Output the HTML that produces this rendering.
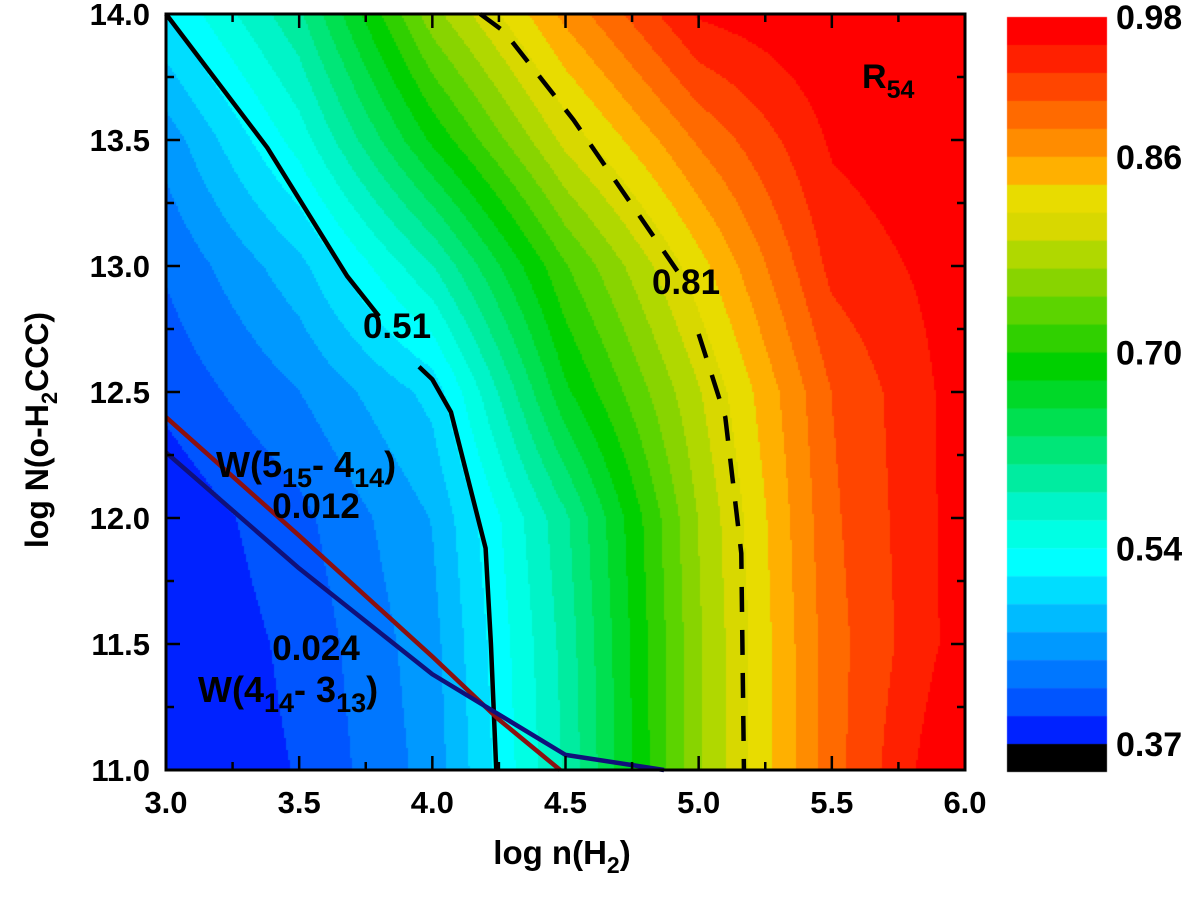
<!DOCTYPE html>
<html><head><meta charset="utf-8"><style>
body{margin:0;background:#fff;width:1200px;height:904px;overflow:hidden}
svg text{font-family:"Liberation Sans",Arial,sans-serif;font-weight:bold}
</style></head><body>
<div style="position:relative;width:1200px;height:904px">
<canvas id="cv" width="1200" height="904" style="position:absolute;left:0;top:0"></canvas>
<svg id="sv" width="1200" height="904" style="position:absolute;left:0;top:0"></svg>
</div>
<script>
// ---- data ----
const xGrid = [3.0, 3.5, 4.0, 4.5, 5.0, 5.5, 6.0];
const yGrid = [11.0, 11.5, 12.0, 12.5, 13.0, 13.5, 14.0];
const rowY110 = [0.37, 0.395, 0.45, 0.585, 0.765, 0.90, 0.99];
const rowY115 = [0.37, 0.40, 0.455, 0.59, 0.765, 0.90, 0.97];
const rowY120 = [0.375, 0.41, 0.465, 0.60, 0.77, 0.905, 0.97];
const rowY125 = [0.40, 0.44, 0.495, 0.67, 0.79, 0.91, 0.97];
const rowY130 = [0.42, 0.48, 0.58, 0.72, 0.83, 0.94, 0.97];
const rowY135 = [0.45, 0.545, 0.68, 0.80, 0.89, 0.96, 0.98];
const rowY140 = [0.51, 0.60, 0.76, 0.87, 0.96, 0.98, 0.99];
const levelMin = 0.37, levelMax = 0.98, nBands = 26;
const bandColors = ["#0022ff","#0055ff","#0077ff","#0099ff","#00bbff","#00ddff","#00ffff","#00ffe4","#00f4c8","#00eca0","#00e678","#00e050","#00d828","#00d000","#30d000","#5cd400","#88d400","#b0d800","#d8d800","#e8dc00","#ffb000","#ff8c00","#ff6a00","#ff4500","#ff2000","#ff0000"];
const cbLabels = ["0.98","0.86","0.70","0.54","0.37"];
const xTicks = ["3.0","3.5","4.0","4.5","5.0","5.5","6.0"];
const yTicks = ["11.0","11.5","12.0","12.5","13.0","13.5","14.0"];
const c051a = [[3.0,14.0],[3.38,13.47],[3.68,12.96],[3.80,12.80]];
const c051b = [[3.95,12.60],[4.0,12.55],[4.07,12.42],[4.20,11.88],[4.22,11.5],[4.24,11.0]];
const c081a = [[4.18,14.0],[4.27,13.93],[4.53,13.58],[4.92,12.98]];
const c081b = [[5.0,12.73],[5.10,12.40],[5.16,11.86],[5.17,11.0]];
const w515 = [[3.0,12.40],[3.5,11.93],[4.0,11.45],[4.25,11.2],[4.48,11.0]];
const w414 = [[3.0,12.26],[3.5,11.80],[4.0,11.38],[4.5,11.06],[4.87,11.0]];

const rows = [rowY110,rowY115,rowY120,rowY125,rowY130,rowY135,rowY140];
const X0=166,X1=965,Y0=770,Y1=14;
const sx=v=>X0+(v-3)/(6-3)*(X1-X0);
const sy=v=>Y0-(v-11)/(14-11)*(Y0-Y1);
const ix=p=>3+(p-X0)/(X1-X0)*3;
const iy=p=>11+(Y0-p)/(Y0-Y1)*3;
function interp(x,y){
  let i=Math.min(xGrid.length-2,Math.max(0,Math.floor((x-xGrid[0])/(xGrid[1]-xGrid[0]))));
  let j=Math.min(yGrid.length-2,Math.max(0,Math.floor((y-yGrid[0])/(yGrid[1]-yGrid[0]))));
  const tx=(x-xGrid[i])/(xGrid[i+1]-xGrid[i]), ty=(y-yGrid[j])/(yGrid[j+1]-yGrid[j]);
  const a=rows[j][i],b=rows[j][i+1],c=rows[j+1][i],d=rows[j+1][i+1];
  return a*(1-tx)*(1-ty)+b*tx*(1-ty)+c*(1-tx)*ty+d*tx*ty;
}
const step=(levelMax-levelMin)/nBands;
function colorOf(v){
  if(v<levelMin) return "#0022ff";
  let k=Math.floor((v-levelMin)/step); if(k>=nBands)k=nBands-1;
  return bandColors[k];
}
const ctx=document.getElementById('cv').getContext('2d');
for(let px=X0;px<X1;px+=2){for(let py=Y1;py<Y0;py+=2){
  ctx.fillStyle=colorOf(interp(ix(px+1),iy(py+1)));ctx.fillRect(px,py,2,2);}}
// colorbar
const CB={x:1007,w:100,top:17,bot:772};
const bh=(CB.bot-CB.top)/(nBands+1);
for(let k=0;k<nBands;k++){ctx.fillStyle=bandColors[nBands-1-k];ctx.fillRect(CB.x,CB.top+k*bh,CB.w,bh+0.5);}
ctx.fillStyle="#000";ctx.fillRect(CB.x,CB.top+nBands*bh,CB.w,bh);

const sv=document.getElementById('sv');const NS="http://www.w3.org/2000/svg";
function mk(tag,attrs,txt){const e=document.createElementNS(NS,tag);for(const k in attrs)e.setAttribute(k,attrs[k]);if(txt!=null)e.textContent=txt;sv.appendChild(e);return e;}
function line(pts,stroke,w,dash,name){
  const e=mk('polyline',{points:pts.map(p=>sx(p[0])+","+sy(p[1])).join(" "),fill:"none",stroke:stroke,"stroke-width":w,"stroke-dasharray":dash||"none","stroke-linejoin":"round"});
  
  
}
line(c051a,"#000",4.5,null,"contour-0-51");
line(c051b,"#000",4.5,null,"contour-0-51-lower");
line(c081a,"#000",4.5,"25,18","contour-0-81");
line(c081b,"#000",4.5,"25,18","contour-0-81-lower");
line(w515,"#8b1010",4.5,null,"w515-line");
line(w414,"#10107a",4.5,null,"w414-line");
// frame
const fr=mk('rect',{x:X0,y:Y1,width:X1-X0,height:Y0-Y1,fill:"none",stroke:"#000","stroke-width":3});


// ticks
for(let v=3;v<=6.001;v+=0.25){const maj=Math.abs(v*2-Math.round(v*2))<1e-6;const L=maj?14:8;
  mk('line',{x1:sx(v),x2:sx(v),y1:Y0,y2:Y0-L,stroke:"#000","stroke-width":2.5});
  mk('line',{x1:sx(v),x2:sx(v),y1:Y1,y2:Y1+L,stroke:"#000","stroke-width":2.5});}
for(let v=11;v<=14.001;v+=0.25){const maj=Math.abs(v*2-Math.round(v*2))<1e-6;const L=maj?14:8;
  mk('line',{x1:X0,x2:X0+L,y1:sy(v),y2:sy(v),stroke:"#000","stroke-width":2.5});
  mk('line',{x1:X1,x2:X1-L,y1:sy(v),y2:sy(v),stroke:"#000","stroke-width":2.5});}
xTicks.forEach(t=>{const e=mk('text',{x:sx(+t),y:813,"font-size":31,"text-anchor":"middle"},t);
  
  });
yTicks.forEach(t=>{const e=mk('text',{x:150,y:sy(+t)+11,"font-size":31,"text-anchor":"end"},t);
  
  });
const cbVals=cbLabels.map(Number);
cbLabels.forEach((t,i)=>{const v=cbVals[i];const k=Math.round((levelMax-v)/step);const yy=CB.top+k*bh;
  const e=mk('text',{x:1116,y:yy+12,"font-size":34},t);
  
  });
</script>
<svg width="1200" height="904" style="position:absolute;left:0;top:0;pointer-events:none">
<g font-family="Liberation Sans, Arial, sans-serif" font-weight="bold" fill="#000">
<text x="562" y="864" font-size="33" text-anchor="middle">log n(H<tspan font-size="23" dy="9">2</tspan><tspan dy="-9">)</tspan></text>
<text transform="translate(48,430) rotate(-90)" font-size="32" text-anchor="middle">log N(o-H<tspan font-size="22" dy="9">2</tspan><tspan dy="-9">CCC)</tspan></text>
<text x="397" y="338" font-size="35" text-anchor="middle">0.51</text>
<text x="686" y="294" font-size="35" text-anchor="middle">0.81</text>
<text x="862" y="88" font-size="34">R<tspan font-size="25" dy="10">54</tspan></text>
<text x="216" y="477" font-size="36">W(5<tspan font-size="27" dy="10">15</tspan><tspan dy="-10">- 4</tspan><tspan font-size="27" dy="10">14</tspan><tspan dy="-10">)</tspan></text>
<text x="316" y="518" font-size="35" text-anchor="middle">0.012</text>
<text x="316" y="660" font-size="35" text-anchor="middle">0.024</text>
<text x="198" y="702" font-size="36">W(4<tspan font-size="27" dy="10">14</tspan><tspan dy="-10">- 3</tspan><tspan font-size="27" dy="10">13</tspan><tspan dy="-10">)</tspan></text>
</g></svg>
</body></html>
